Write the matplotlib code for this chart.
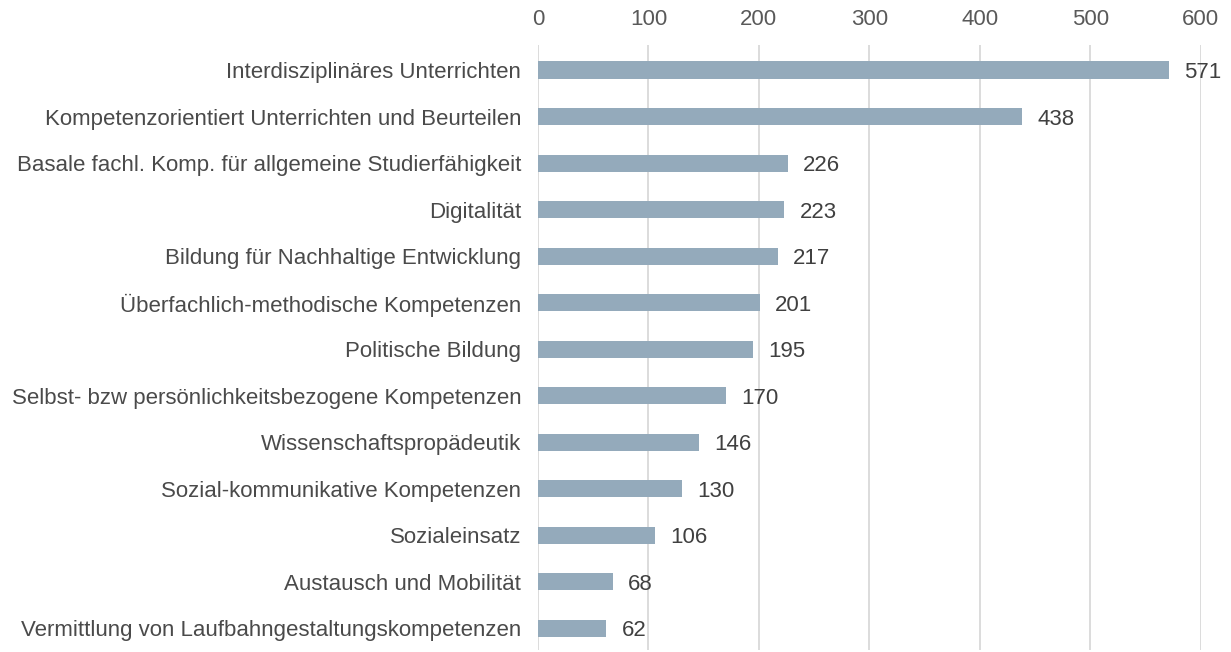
import matplotlib.pyplot as plt

categories = [
    "Interdisziplinäres Unterrichten",
    "Kompetenzorientiert Unterrichten und Beurteilen",
    "Basale fachl. Komp. für allgemeine Studierfähigkeit",
    "Digitalität",
    "Bildung für Nachhaltige Entwicklung",
    "Überfachlich-methodische Kompetenzen",
    "Politische Bildung",
    "Selbst- bzw persönlichkeitsbezogene Kompetenzen",
    "Wissenschaftspropädeutik",
    "Sozial-kommunikative Kompetenzen",
    "Sozialeinsatz",
    "Austausch und Mobilität",
    "Vermittlung von Laufbahngestaltungskompetenzen",
]
values = [571, 438, 226, 223, 217, 201, 195, 170, 146, 130, 106, 68, 62]
xticks = [0, 100, 200, 300, 400, 500, 600]

plt.rcParams["font.family"] = ["Liberation Sans", "DejaVu Sans"]

fig = plt.figure(figsize=(12.31, 6.52), dpi=100)
ax = fig.add_axes([0.437, 0.003, 0.5385, 0.928])

y = list(range(len(categories)))
ax.barh(y, values, height=0.37, color="#94AABB", zorder=3)

# value labels just right of each bar, sitting a touch low like the original
for yi, v in zip(y, values):
    ax.annotate(str(v), xy=(v, yi), xytext=(11, -2), textcoords="offset points",
                ha="left", va="center", fontsize=16, color="#404040",
                annotation_clip=False)

ax.set_ylim(12.47, -0.54)
ax.set_xlim(0, 600)
ax.set_yticks(y)
ax.set_yticklabels(categories, fontsize=16, color="#4a4a4a")
ax.set_xticks(xticks)
ax.set_xticklabels([str(t) for t in xticks], fontsize=16, color="#595959")
ax.xaxis.tick_top()
ax.tick_params(axis="both", length=0)
ax.tick_params(axis="y", pad=12)
ax.tick_params(axis="x", pad=11)
ax.grid(True, axis="x", color="#D9D9D9", linewidth=1.3, zorder=0)
for s in ax.spines.values():
    s.set_visible(False)

fig.savefig("out.png", dpi=100)
